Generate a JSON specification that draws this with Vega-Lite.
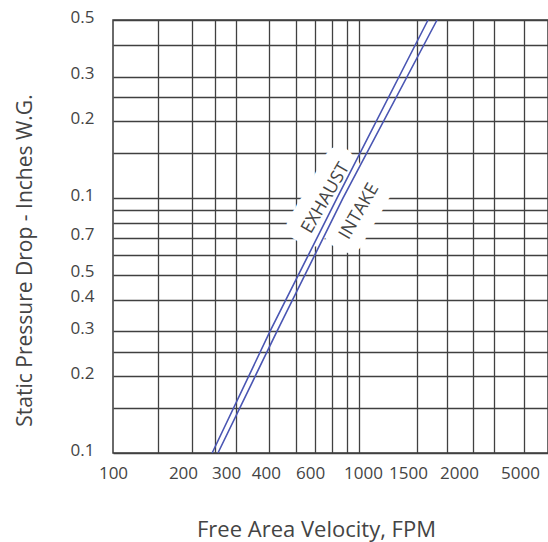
{
  "$schema": "https://vega.github.io/schema/vega-lite/v6.json",
  "width": 435,
  "height": 433,
  "autosize": {"type": "none"},
  "padding": {"left": 113, "top": 20, "right": 0, "bottom": 89},
  "background": "white",
  "config": {
    "view": {"stroke": "#3a3a3a", "strokeWidth": 1.5},
    "font": "Open Sans"
  },
  "datasets": {
    "curves": [
      {"series": "Exhaust", "velocity": 252, "pressure": 0.01},
      {"series": "Exhaust", "velocity": 432, "pressure": 0.03},
      {"series": "Exhaust", "velocity": 807, "pressure": 0.1},
      {"series": "Exhaust", "velocity": 1885, "pressure": 0.5},
      {"series": "Intake", "velocity": 266, "pressure": 0.01},
      {"series": "Intake", "velocity": 461, "pressure": 0.03},
      {"series": "Intake", "velocity": 853, "pressure": 0.1},
      {"series": "Intake", "velocity": 2050, "pressure": 0.5}
    ],
    "labels": [
      {"label": "EXHAUST", "velocity": 728, "pressure": 0.1},
      {"label": "INTAKE", "velocity": 995, "pressure": 0.0886}
    ]
  },
  "layer": [
    {
      "data": {"name": "labels"},
      "mark": {"type": "text", "fill": "white", "stroke": "white", "strokeWidth": 28, "strokeJoin": "round", "fontSize": 18, "angle": 300, "font": "Open Sans"},
      "encoding": {
        "x": {
          "field": "velocity", "type": "quantitative",
          "scale": {"type": "log", "domain": [100, 5768], "nice": false},
          "axis": {
            "orient": "bottom",
            "values": [152, 209, 259, 315, 428, 551, 657, 770, 886, 991, 1701, 2250, 2868, 3486, 4613],
            "labels": false, "ticks": false, "domain": false,
            "grid": true, "gridColor": "#404040", "gridWidth": 1.3, "gridOpacity": 1,
            "title": null
          }
        },
        "y": {
          "field": "pressure", "type": "quantitative",
          "scale": {"type": "log", "domain": [0.01, 0.5], "nice": false},
          "axis": {
            "values": [0.01, 0.015, 0.02, 0.025, 0.03, 0.04, 0.05, 0.06, 0.07, 0.08, 0.09, 0.1, 0.15, 0.2, 0.25, 0.3, 0.4, 0.5],
            "labelExpr": "indexof([0.01,0.02,0.03,0.04,0.05,0.07,0.1,0.2,0.3,0.5], datum.value) < 0 ? '' : (datum.value < 0.1 ? format(datum.value*10, '.1f') : format(datum.value, '.1f'))",
            "grid": true, "gridColor": "#404040", "gridWidth": 1.3, "gridOpacity": 1,
            "ticks": false, "domain": false,
            "labelFontSize": 17, "labelColor": "#444444", "labelPadding": 19, "labelOffset": -3,
            "labelOverlap": false, "labelBound": false, "labelFlush": false,
            "title": "Static Pressure Drop - Inches W.G.",
            "titleFontSize": 21, "titleFontWeight": "normal", "titleColor": "#444444",
            "titleX": -88, "titleY": 240, "titleAngle": 270, "titleBaseline": "middle", "titleAlign": "center"
          }
        },
        "text": {"field": "label"}
      }
    },
    {
      "data": {"name": "curves"},
      "mark": {"type": "line", "strokeWidth": 1.6, "color": "#4a56b3"},
      "encoding": {
        "x": {
          "field": "velocity", "type": "quantitative",
          "scale": {"type": "log", "domain": [100, 5768], "nice": false},
          "axis": {
            "orient": "bottom",
            "values": [100, 192, 287, 416, 628, 1028, 1564, 2517, 4445],
            "labelExpr": "datum.value < 150 ? '100' : datum.value < 250 ? '200' : datum.value < 350 ? '300' : datum.value < 500 ? '400' : datum.value < 800 ? '600' : datum.value < 1300 ? '1000' : datum.value < 2000 ? '1500' : datum.value < 3500 ? '2000' : '5000'",
            "grid": false, "ticks": false, "domain": false,
            "labelFontSize": 17, "labelColor": "#444444", "labelPadding": 12,
            "labelOverlap": false, "labelBound": false, "labelFlush": false,
            "title": "Free Area Velocity, FPM",
            "titleFontSize": 22, "titleFontWeight": "normal", "titleColor": "#444444",
            "titleX": 203, "titleY": 83, "titleBaseline": "alphabetic", "titleAlign": "center"
          }
        },
        "y": {
          "field": "pressure", "type": "quantitative",
          "scale": {"type": "log", "domain": [0.01, 0.5], "nice": false}
        },
        "detail": {"field": "series"}
      }
    },
    {
      "data": {"name": "labels"},
      "mark": {"type": "text", "fill": "#444444", "fontSize": 18, "angle": 300, "font": "Open Sans"},
      "encoding": {
        "x": {
          "field": "velocity", "type": "quantitative",
          "scale": {"type": "log", "domain": [100, 5768], "nice": false},
          "axis": null
        },
        "y": {
          "field": "pressure", "type": "quantitative",
          "scale": {"type": "log", "domain": [0.01, 0.5], "nice": false}
        },
        "text": {"field": "label"}
      }
    }
  ],
  "resolve": {"axis": {"x": "independent"}}
}
